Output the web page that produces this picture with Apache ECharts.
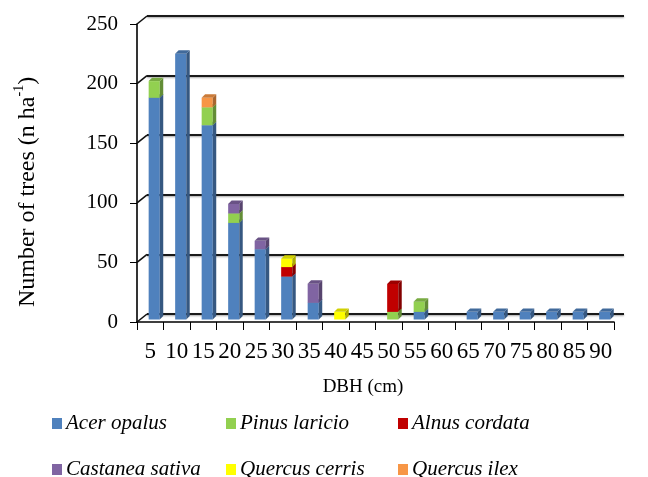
<!DOCTYPE html>
<html>
<head>
<meta charset="utf-8">
<script src="https://cdn.jsdelivr.net/npm/echarts@6/dist/echarts.min.js"></script>
<style>
  html, body { margin: 0; padding: 0; background: #ffffff; }
  #chart { width: 648px; height: 477px; }
</style>
</head>
<body>
<div id="chart"></div>
<script>
// DBH classes (cm)
const dbhClasses = ['5','10','15','20','25','30','35','40','45','50','55','60','65','70','75','80','85','90'];

// Trees per hectare by species and DBH class
const acerOpalus      = [186, 223, 163, 81, 59, 36, 14, 0, 0, 0, 6.4, 0, 6.4, 6.4, 6.4, 6.4, 6.4, 6.4];
const pinusLaricio    = [14, 0, 15, 8, 0, 0, 0, 0, 0, 6.4, 8.5, 0, 0, 0, 0, 0, 0, 0];
const alnusCordata    = [0, 0, 0, 0, 0, 8, 0, 0, 0, 23.4, 0, 0, 0, 0, 0, 0, 0, 0];
const castaneaSativa  = [0, 0, 0, 8, 7, 0, 16, 0, 0, 0, 0, 0, 0, 0, 0, 0, 0, 0];
const quercusCerris   = [0, 0, 0, 0, 0, 7, 0, 6.4, 0, 0, 0, 0, 0, 0, 0, 0, 0, 0];
const quercusIlex     = [0, 0, 8, 0, 0, 0, 0, 0, 0, 0, 0, 0, 0, 0, 0, 0, 0, 0];

// Value axis ticks
const yTicks = [0, 50, 100, 150, 200, 250];

const speciesNames  = ['Acer opalus', 'Pinus laricio', 'Alnus cordata', 'Castanea sativa', 'Quercus cerris', 'Quercus ilex'];
const speciesValues = [acerOpalus, pinusLaricio, alnusCordata, castaneaSativa, quercusCerris, quercusIlex];
const speciesColors = ['#4F81BD', '#92D050', '#C00000', '#8064A2', '#FFFF00', '#F79646'];

function shade(hex, f) {
  const n = parseInt(hex.slice(1), 16);
  const r = Math.round(((n >> 16) & 255) * f);
  const g = Math.round(((n >> 8) & 255) * f);
  const b = Math.round((n & 255) * f);
  return 'rgb(' + r + ',' + g + ',' + b + ')';
}

// Running totals so each species sits on top of the ones below it
const cumulative = dbhClasses.map(() => 0);
const stackedData = speciesValues.map(vals => vals.map((v, i) => {
  const base = cumulative[i];
  cumulative[i] += v;
  return [i, base, base + v];
}));

// Draws a column segment with a front face, a right side and a top face
function makeColumnRenderer(color) {
  const sideColor = shade(color, 0.68);
  const topColor = shade(color, 0.82);
  return function (params, api) {
    const ci = api.value(0), base = api.value(1), top = api.value(2);
    if (!(top > base)) return null;
    const bw = api.size([1, 0])[0];
    const pb = api.coord([ci, base]);
    const pt = api.coord([ci, top]);
    const lift = 2.5;
    const xL = pb[0] - 0.06 * bw;
    const xR = pb[0] + 0.36 * bw;
    const d = 0.13 * bw;
    const yB = pb[1] - lift;
    const yT = pt[1] - lift;
    return {
      type: 'group',
      children: [
        { type: 'rect', shape: { x: xL, y: yT, width: xR - xL, height: yB - yT }, style: { fill: color } },
        { type: 'polygon', shape: { points: [[xR, yB], [xR, yT], [xR + d, yT - d], [xR + d, yB - d]] }, style: { fill: sideColor } },
        { type: 'polygon', shape: { points: [[xL, yT], [xR, yT], [xR + d, yT - d], [xL + d, yT - d]] }, style: { fill: topColor } }
      ]
    };
  };
}

// Slanted edges joining the front value axis to the back-wall gridlines
function renderWallEdge(params, api) {
  const bw = api.size([1, 0])[0];
  const p = api.coord([0, api.value(1)]);
  const x0 = p[0] - bw / 2;
  return {
    type: 'line',
    shape: { x1: x0, y1: p[1], x2: x0 + 10, y2: p[1] - 8 },
    style: { stroke: '#111', lineWidth: 1.6 }
  };
}

const serifFont = '"Liberation Serif", "Times New Roman", serif';

const series = speciesNames.map((name, k) => ({
  name: name,
  type: 'custom',
  xAxisIndex: 0,
  yAxisIndex: 0,
  renderItem: makeColumnRenderer(speciesColors[k]),
  encode: { x: 0, y: [1, 2] },
  itemStyle: { color: speciesColors[k] },
  data: stackedData[k],
  z: 5
}));

series.push({
  name: 'wallEdges',
  type: 'custom',
  xAxisIndex: 0,
  yAxisIndex: 0,
  renderItem: renderWallEdge,
  encode: { x: 0, y: 1 },
  data: yTicks.map(v => [0, v]),
  silent: true,
  z: 3
});

// One legend per cell: three columns, two rows
const legendCols = [47, 221, 393];
const legendRows = [408, 454];
const legends = speciesNames.map((name, k) => ({
  data: [name],
  left: legendCols[k % 3],
  top: legendRows[Math.floor(k / 3)],
  icon: 'rect',
  itemWidth: 10,
  itemHeight: 11,
  itemGap: 0,
  selectedMode: false,
  textStyle: { fontFamily: serifFont, fontStyle: 'italic', fontSize: 21, color: '#000', padding: [0, 0, 0, -1] }
}));

const chart = echarts.init(document.getElementById('chart'), null, { renderer: 'canvas' });
chart.setOption({
  backgroundColor: '#ffffff',
  animation: false,
  color: speciesColors,
  legend: legends,
  grid: [
    { left: 137, right: 34, top: 24, bottom: 155 },
    { left: 147, right: 24, top: 16, bottom: 163 }
  ],
  xAxis: [
    {
      type: 'category',
      gridIndex: 0,
      data: dbhClasses,
      boundaryGap: true,
      axisLine: { show: true, lineStyle: { color: '#000', width: 1.6 } },
      axisTick: { show: true, length: 8, lineStyle: { color: '#000', width: 1 } },
      axisLabel: { interval: 0, margin: 18, color: '#000', fontFamily: serifFont, fontSize: 23, hideOverlap: false }
    },
    {
      type: 'category',
      gridIndex: 1,
      data: dbhClasses,
      show: false
    }
  ],
  yAxis: [
    {
      type: 'value',
      gridIndex: 0,
      min: 0, max: 250, interval: 50,
      axisLine: { show: true, lineStyle: { color: '#000', width: 1.6 } },
      axisTick: { show: true, length: 7, lineStyle: { color: '#000', width: 1 } },
      axisLabel: { margin: 19, color: '#000', fontFamily: serifFont, fontSize: 21 },
      splitLine: { show: false }
    },
    {
      type: 'value',
      gridIndex: 1,
      min: 0, max: 250, interval: 50,
      axisLine: { show: false },
      axisTick: { show: false },
      axisLabel: { show: false },
      splitLine: { show: true, lineStyle: { color: '#1a1a1a', width: 2, shadowColor: 'rgba(0,0,0,0.35)', shadowBlur: 2, shadowOffsetY: 1 } }
    }
  ],
  graphic: [
    {
      type: 'text',
      x: 26, y: 192,
      rotation: Math.PI / 2,
      style: {
        text: '{a|Number of trees (n ha}{s|-1}{a|)}',
        align: 'center',
        verticalAlign: 'middle',
        rich: {
          a: { fontFamily: serifFont, fontSize: 24, fill: '#000', lineHeight: 28, verticalAlign: 'bottom' },
          s: { fontFamily: serifFont, fontSize: 14, fill: '#000', lineHeight: 28, verticalAlign: 'top' }
        }
      }
    },
    {
      type: 'text',
      x: 363, y: 387,
      style: {
        text: 'DBH (cm)',
        align: 'center',
        verticalAlign: 'middle',
        fontFamily: serifFont,
        fontSize: 19,
        fill: '#000'
      }
    }
  ],
  series: series
});
</script>
</body>
</html>
